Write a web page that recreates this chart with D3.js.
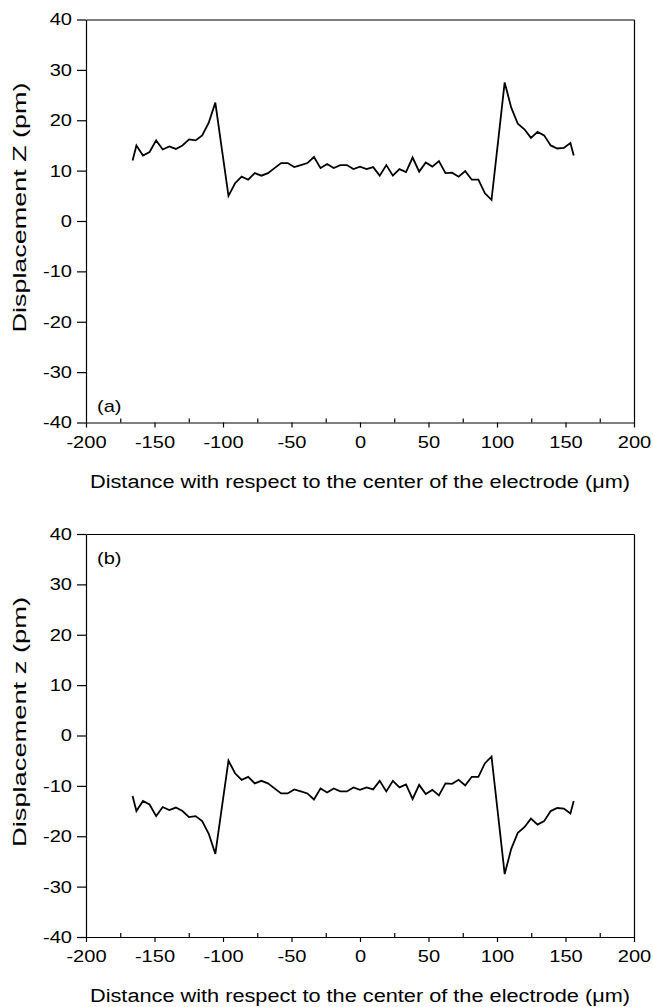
<!DOCTYPE html>
<html><head><meta charset="utf-8">
<script src="https://cdn.jsdelivr.net/npm/d3@7"></script>
<style>
body{margin:0;background:#fff}
svg text{font-family:"Liberation Sans",Arial,Helvetica,sans-serif;fill:#000}
</style>
</head><body>
<svg id="chart" width="653" height="1007"></svg>
<script>
// ---- data ----
const xPositions = [-166, -163.2, -158.4, -153.6, -148.8, -144, -139.2, -134.4, -129.6, -124.8, -120, -115.2, -110.4, -105.6,
  -100.8, -96, -91.2, -86.4, -81.6, -76.8, -72, -67.2, -62.4, -57.6, -52.8,
  -48, -43.2, -38.4, -33.6, -28.8, -24, -19.2, -14.4, -9.6, -4.8, 0,
  4.8, 9.6, 14.4, 19.2, 24, 28.8, 33.6, 38.4, 43.2, 48, 52.8,
  57.6, 62.4, 67.2, 72, 76.8, 81.6, 86.4, 91.2, 96, 100.8, 105.6,
  110.4, 115.2, 120, 124.8, 129.6, 134.4, 139.2, 144, 148.8, 153.6, 156];
const displacementA = [12.0, 15.0, 13.0, 13.7, 16.0, 14.2, 14.8, 14.3, 15.0, 16.2, 16.0, 17.0, 19.5, 23.5,
  14.2, 5.0, 7.5, 8.8, 8.2, 9.5, 9.0, 9.5, 10.5, 11.5, 11.5,
  10.7, 11.1, 11.5, 12.7, 10.5, 11.3, 10.5, 11.1, 11.1, 10.3, 10.8,
  10.3, 10.7, 9.0, 11.1, 9.0, 10.3, 9.7, 12.6, 9.8, 11.6, 10.8,
  11.9, 9.5, 9.6, 8.8, 9.9, 8.2, 8.2, 5.5, 4.2, 15.8, 27.5,
  22.5, 19.3, 18.2, 16.5, 17.7, 17.0, 15.0, 14.4, 14.5, 15.5, 13.0];
const displacementB = [-12.0, -15.0, -13.0, -13.7, -16.0, -14.2, -14.8, -14.3, -15.0, -16.2, -16.0, -17.0, -19.5, -23.5,
  -14.2, -5.0, -7.5, -8.8, -8.2, -9.5, -9.0, -9.5, -10.5, -11.5, -11.5,
  -10.7, -11.1, -11.5, -12.7, -10.5, -11.3, -10.5, -11.1, -11.1, -10.3, -10.8,
  -10.3, -10.7, -9.0, -11.1, -9.0, -10.3, -9.7, -12.6, -9.8, -11.6, -10.8,
  -11.9, -9.5, -9.6, -8.8, -9.9, -8.2, -8.2, -5.5, -4.2, -15.8, -27.5,
  -22.5, -19.3, -18.2, -16.5, -17.7, -17.0, -15.0, -14.4, -14.5, -15.5, -13.0];
const xTickValues = [-200, -150, -100, -50, 0, 50, 100, 150, 200];
const xMinorTickValues = [-175, -125, -75, -25, 25, 75, 125, 175];
const yTickValues = [-40, -30, -20, -10, 0, 10, 20, 30, 40];
const xDomain = [-200, 200];
const yDomain = [-40, 40];
const panelLabels = ["(a)", "(b)"];
const yTitles = ["Displacement Z (pm)", "Displacement z (pm)"];
const xTitle = "Distance with respect to the center of the electrode (\u03bcm)";

// ---- drawing ----
const svg = d3.select("#chart");
const left = 86, right = 634, plotH = 403;
const panelTops = [19.5, 534];
const panelData = [displacementA, displacementB];
const labelPos = ["bottom", "top"];
const WIDEN = 1.18;

function widen(sel, k) {
  sel.each(function () {
    const L = this.getComputedTextLength();
    d3.select(this).attr("textLength", L * k).attr("lengthAdjust", "spacingAndGlyphs");
  });
}

const x = d3.scaleLinear().domain(xDomain).range([left, right]);

panelTops.forEach((top, i) => {
  const y = d3.scaleLinear().domain(yDomain).range([top + plotH, top]);
  const g = svg.append("g");

  // frame top / right
  g.append("g").attr("transform", `translate(0,${top})`)
    .call(d3.axisTop(x).tickValues([]).tickSizeOuter(0));
  g.append("g").attr("transform", `translate(${right},0)`)
    .call(d3.axisRight(y).tickValues([]).tickSizeOuter(0));

  // minor x ticks (inward)
  g.append("g").attr("transform", `translate(0,${top + plotH})`)
    .call(d3.axisBottom(x).tickValues(xMinorTickValues).tickSize(-4).tickFormat(""))
    .call(a => a.select(".domain").remove());

  // bottom axis
  const xa = g.append("g").attr("transform", `translate(0,${top + plotH})`)
    .call(d3.axisBottom(x).tickValues(xTickValues).tickSize(5).tickSizeOuter(0).tickPadding(8)
      .tickFormat(d => String(d)));
  xa.selectAll("text").attr("font-size", 17).attr("font-family", null).call(widen, WIDEN);

  // left axis
  const ya = g.append("g").attr("transform", `translate(${left},0)`)
    .call(d3.axisLeft(y).tickValues(yTickValues).tickSize(9).tickSizeOuter(0).tickPadding(5)
      .tickFormat(d => String(d)));
  ya.selectAll("text").attr("font-size", 17).attr("font-family", null).call(widen, WIDEN);

  svg.selectAll(".domain, .tick line").attr("stroke", "#000").attr("stroke-width", 1.2);

  // line
  const line = d3.line().x((d, j) => x(xPositions[j])).y(d => y(d));
  g.append("path").datum(panelData[i])
    .attr("fill", "none").attr("stroke", "#000").attr("stroke-width", 1.8)
    .attr("stroke-linejoin", "miter").attr("d", line);

  // panel label
  g.append("text").attr("x", 97)
    .attr("y", labelPos[i] === "bottom" ? top + plotH - 11 : top + 30)
    .attr("font-size", 17).text(panelLabels[i]).call(widen, WIDEN);

  // titles
  g.append("text").attr("x", (left + right) / 2).attr("y", top + plotH + 65)
    .attr("text-anchor", "middle").attr("font-size", 18)
    .attr("textLength", 540).attr("lengthAdjust", "spacingAndGlyphs")
    .text(xTitle);
  g.append("text")
    .attr("transform", `translate(26,${top + 188}) rotate(-90)`)
    .attr("text-anchor", "middle").attr("font-size", 19)
    .attr("textLength", 250).attr("lengthAdjust", "spacingAndGlyphs")
    .text(yTitles[i]);
});
</script>
</body></html>
